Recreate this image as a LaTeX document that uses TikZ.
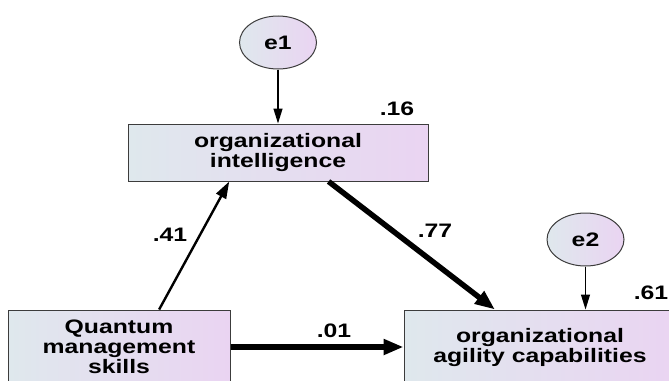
\documentclass[tikz,border=0pt]{standalone}
\usepackage{fontspec}
\newfontfamily\amosfont{Liberation Sans}[FakeStretch=1.27]
\usetikzlibrary{shapes, positioning, calc, arrows.meta}
\definecolor{boxleft}{RGB}{223,232,237}
\definecolor{boxright}{RGB}{234,212,242}
\definecolor{boxline}{RGB}{60,60,60}

\begin{document}
\begin{tikzpicture}[
    x = 1pt, y = -1pt,
    every node/.style = {font = \amosfont\bfseries\fontsize{19.5}{20}\selectfont},
    observed/.style = {
      rectangle, draw = boxline, line width = 1pt, inner sep = 0pt,
      left color = boxleft, right color = boxright, align = center
    },
    error/.style = {
      ellipse, draw = boxline, line width = 1pt, inner sep = 0pt,
      minimum width = 77pt, minimum height = 53pt,
      left color = boxleft, right color = boxright
    },
    errpath/.style = {
      -{Triangle[length = 15pt, width = 9pt]}, line width = 1.3pt
    },
    regpath/.style = {
      -{Triangle[length = 17pt, width = 11pt]}, line width = 2.4pt
    },
    bigpath/.style = {
      -{Triangle[length = 20pt, width = 15pt]}, line width = 5.5pt
    },
    ]
\path [use as bounding box] (0,0) rectangle (669,380);
\clip (0,0) rectangle (669,380);

\node  [observed, minimum width = 300pt, minimum height = 57pt]  (intel)  at  (278,152.5)  {organizational\\intelligence};
\node  [error]  (e1)  [above = 54pt of intel]  {e1};
\node  [observed, minimum width = 222pt, minimum height = 74pt]  (quantum)  at  (119,347)  {Quantum\\management\\skills};
\node  [observed, minimum width = 272pt, minimum height = 74pt]  (agility)  at  (540,347)  {organizational\\agility capabilities};
\node  [error]  (e2)  at  (585.5,239.5)  {e2};

\draw  [errpath]  (e1)  --  (e1 |- intel.north);
\draw  [errpath]  (e2)  --  (e2 |- agility.north);
\draw  [regpath]  ($(quantum.north west)!.68!(quantum.north east)$)  --  ($(intel.south west)!.338!(intel.south east)$);
\draw  [bigpath]  ($(intel.south west)!.668!(intel.south east)$)  --  ($(agility.north west)!.335!(agility.north east)$);
\draw  [bigpath]  (quantum)  --  (agility);

% coefficients and squared multiple correlations
\node  (r16)  at  (397,109)  {.16};
\node  (r61)  at  (651,293)  {.61};
\node  (b41)  at  (170,235)  {.41};
\node  (b77)  at  (435,231)  {.77};
\node  (b01)  at  (334,331)  {.01};
\end{tikzpicture}
\end{document}
